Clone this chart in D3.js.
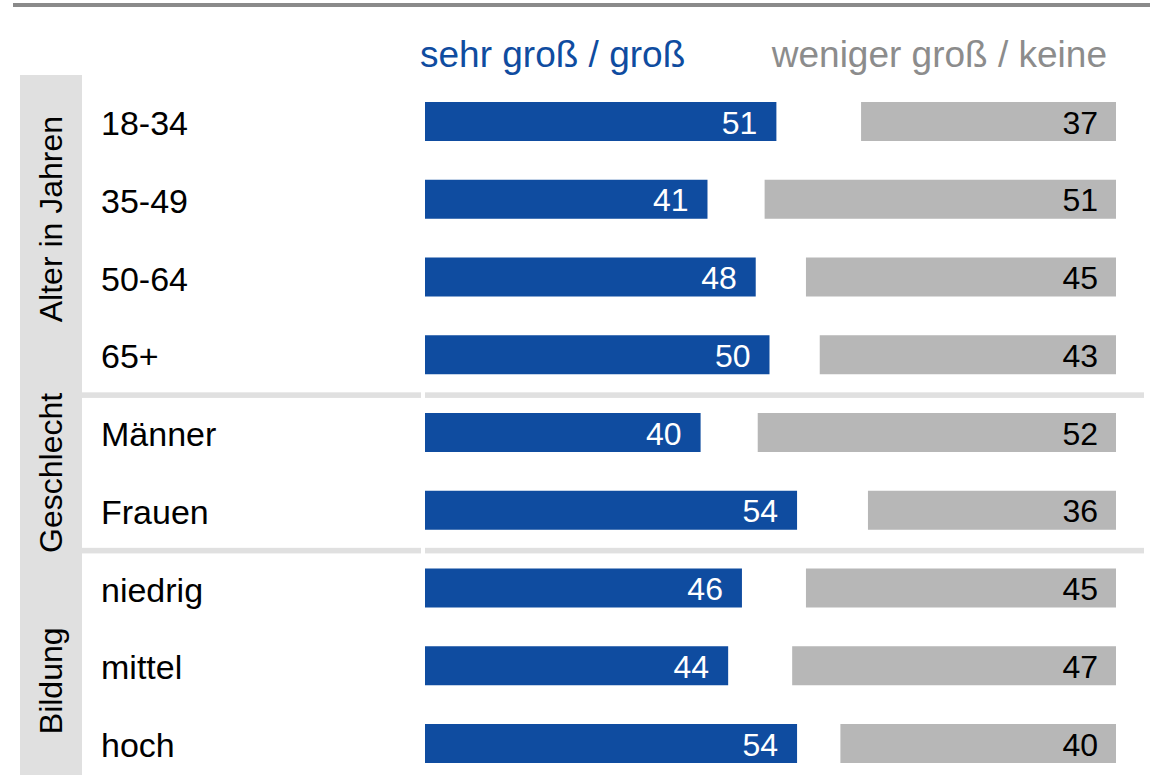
<!DOCTYPE html>
<html>
<head>
<meta charset="utf-8">
<script src="https://cdn.jsdelivr.net/npm/d3@7"></script>
<style>
  html, body { margin: 0; padding: 0; background: #fff; }
  svg { display: block; font-family: "Liberation Sans", Arial, sans-serif; }
</style>
</head>
<body>
<svg id="chart" width="1150" height="775"></svg>
<script>
// ---- data ----
const categories = ["18-34", "35-49", "50-64", "65+", "Männer", "Frauen", "niedrig", "mittel", "hoch"];
const groupOf    = ["Alter in Jahren", "Alter in Jahren", "Alter in Jahren", "Alter in Jahren",
                    "Geschlecht", "Geschlecht", "Bildung", "Bildung", "Bildung"];
const groups     = ["Alter in Jahren", "Geschlecht", "Bildung"];
const seriesHigh = [51, 41, 48, 50, 40, 54, 46, 44, 54];   // sehr groß / groß
const seriesLow  = [37, 51, 45, 43, 52, 36, 45, 47, 40];   // weniger groß / keine
const seriesNames = ["sehr groß / groß", "weniger groß / keine"];

// ---- layout ----
const W = 1150, H = 775;
const blue = "#0f4ca0", grey = "#b7b7b7", light = "#e0e0e0";
const svg = d3.select("#chart");

const y = d3.scalePoint().domain(categories).range([121.5, 743.5]);
const len = d3.scaleLinear().domain([0, 100]).range([0, 689]);
const xBlue0 = 425, xGreyEnd = 1116;
const barH = 39;

// top rule
svg.append("rect").attr("x", 13).attr("y", 3).attr("width", W - 13).attr("height", 4).attr("fill", "#8a8a8a");

// group strip
svg.append("rect").attr("x", 20).attr("y", 75).attr("width", 62).attr("height", H - 75).attr("fill", light);

// separators between groups
const bounds = [];
groups.forEach((g) => {
  const idx = groupOf.map((d, i) => d === g ? i : -1).filter(i => i >= 0);
  bounds.push({ g, first: idx[0], last: idx[idx.length - 1] });
});
const sepYs = [];
for (let i = 0; i < bounds.length - 1; i++) {
  const a = y(categories[bounds[i].last]), b = y(categories[bounds[i + 1].first]);
  sepYs.push((a + b) / 2 + 1.5);
}
sepYs.forEach(sy => {
  svg.append("rect").attr("x", 82).attr("y", sy - 2.8).attr("width", 421 - 82).attr("height", 5.6).attr("fill", light);
  svg.append("rect").attr("x", 425).attr("y", sy - 2.8).attr("width", 1144 - 425).attr("height", 5.6).attr("fill", light);
});

// group labels
bounds.forEach((b, i) => {
  const top = i === 0 ? y(categories[b.first]) - 78.5 : sepYs[i - 1];
  const bot = i === bounds.length - 1 ? y(categories[b.last]) + 67.5 : sepYs[i];
  const cy = (top + bot) / 2;
  svg.append("text")
    .attr("transform", `translate(51,${cy}) rotate(-90)`)
    .attr("text-anchor", "middle").attr("dy", "0.35em")
    .attr("font-size", 32).attr("fill", "#000")
    .text(b.g);
});

// legend headers
svg.append("text").attr("x", 420).attr("y", 67).attr("font-size", 37).attr("fill", blue).text(seriesNames[0]);
svg.append("text").attr("x", 1107).attr("y", 67).attr("text-anchor", "end").attr("font-size", 37).attr("fill", "#8c8c8c").text(seriesNames[1]);

// row labels
svg.selectAll("text.cat").data(categories).enter().append("text")
  .attr("class", "cat").attr("x", 101).attr("y", d => y(d) + 1.8).attr("dy", "0.35em")
  .attr("font-size", 34).attr("fill", "#000").text(d => d);

// blue bars
svg.selectAll("rect.hi").data(seriesHigh).enter().append("rect")
  .attr("class", "hi").attr("x", xBlue0).attr("y", (d, i) => y(categories[i]) - barH / 2)
  .attr("width", d => len(d)).attr("height", barH).attr("fill", blue);
svg.selectAll("text.hiv").data(seriesHigh).enter().append("text")
  .attr("class", "hiv").attr("x", d => xBlue0 + len(d) - 19).attr("y", (d, i) => y(categories[i]) + 1)
  .attr("dy", "0.35em").attr("text-anchor", "end").attr("font-size", 32).attr("fill", "#fff").text(d => d);

// grey bars
svg.selectAll("rect.lo").data(seriesLow).enter().append("rect")
  .attr("class", "lo").attr("x", d => xGreyEnd - len(d)).attr("y", (d, i) => y(categories[i]) - barH / 2)
  .attr("width", d => len(d)).attr("height", barH).attr("fill", grey);
svg.selectAll("text.lov").data(seriesLow).enter().append("text")
  .attr("class", "lov").attr("x", xGreyEnd - 18).attr("y", (d, i) => y(categories[i]) + 1)
  .attr("dy", "0.35em").attr("text-anchor", "end").attr("font-size", 32).attr("fill", "#000").text(d => d);
</script>
</body>
</html>
